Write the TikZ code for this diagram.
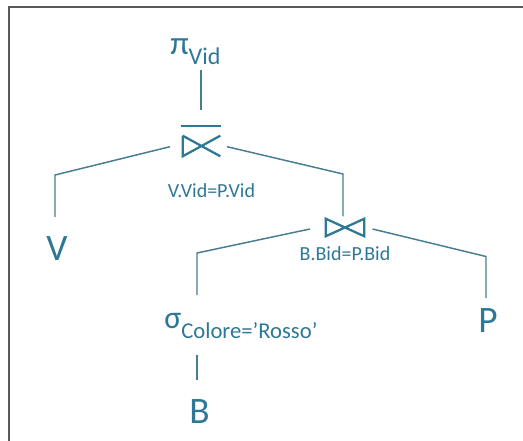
\documentclass[tikz,border=0pt]{standalone}
\usepackage{fontspec}
\setmainfont{Carlito}
\definecolor{txt}{RGB}{46,120,150}
\definecolor{ln}{RGB}{70,125,145}
\begin{document}
\begin{tikzpicture}[x=0.75pt,y=-0.75pt,
  edge/.style={draw=ln,line width=1.1pt},
  sym/.style={draw=txt,line width=1.7pt},
  big/.style={text=txt,font=\fontsize{28}{28}\selectfont,inner sep=0pt},
  cond/.style={text=txt,font=\fontsize{15}{15}\selectfont,inner sep=0pt},
  joinbox/.style={inner sep=0pt,draw=none}]
\useasboundingbox (0,0) rectangle (523,441);
\draw[gray!70!black, line width=1.5pt] (9,441) -- (9,7.5) -- (523,7.5);

% leaves and labels
\node[big,anchor=base] (V) at (57,260) {V};
\node[big,anchor=base] (P) at (488,332) {P};
\node[big,anchor=base] (B) at (199.5,423) {B};
\node[cond,anchor=base] (c1) at (211.5,198) {V.Vid=P.Vid};
\node[cond,anchor=base] (c2) at (345,260) {B.Bid=P.Bid};
\node[text=txt,anchor=base west,inner sep=0pt] (pi) at (170,55)
  {\fontsize{25}{25}\selectfont π\raisebox{-7.5pt}{\fontsize{18}{18}\selectfont Vid}};
\node[text=txt,anchor=base west,inner sep=0pt] (sigma) at (164,328)
  {\fontsize{24}{24}\selectfont σ\raisebox{-8pt}{\fontsize{17}{17}\selectfont Colore=’Rosso’}};

% join symbols
\node[joinbox,minimum width=27.75pt,minimum height=15pt] (j1) at (201.5,146) {};
\draw[sym,line join=miter] (j1.north west) -- (j1.south west) -- (j1.north east)
            (j1.north west) -- (j1.south east);
\draw[sym] ([shift={(-2,-9.5)}]j1.north west) -- ([shift={(1,-9.5)}]j1.north east);
\node[joinbox,minimum width=28.5pt,minimum height=12.75pt] (j2) at (345,227.5) {};
\draw[sym,line join=miter] (j2.north west) -- (j2.south east) -- (j2.north east) -- (j2.south west) -- cycle;

% connector end points
\coordinate (piB) at (201,70);
\coordinate (j1T) at (201,110);
\coordinate (j1L) at (170,146.7);
\coordinate (k1) at (55,175);
\coordinate (vT) at (55,217);
\coordinate (j1R) at (227,146.7);
\coordinate (k2) at (343,174);
\coordinate (j2T) at (343,216.5);
\coordinate (j2L) at (310,229);
\coordinate (k3) at (197,253);
\coordinate (sT) at (197,295);
\coordinate (j2R) at (372.5,229);
\coordinate (k4) at (486,256.5);
\coordinate (pT) at (486,298);
\coordinate (sB) at (197,355);
\coordinate (bT) at (197,380);

\draw[edge] (piB) -- (j1T);
\draw[edge] (j1L) -- (k1) -- (vT);
\draw[edge] (j1R) -- (k2) -- (j2T);
\draw[edge] (j2L) -- (k3) -- (sT);
\draw[edge] (j2R) -- (k4) -- (pT);
\draw[edge] (sB) -- (bT);
\end{tikzpicture}
\end{document}
